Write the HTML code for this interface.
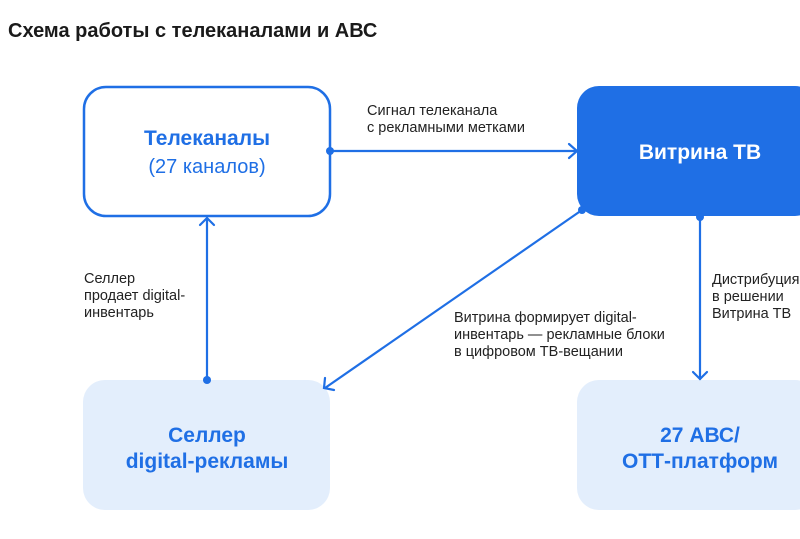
<!DOCTYPE html>
<html><head><meta charset="utf-8"><style>
body{margin:0;width:800px;height:534px;background:#fff;overflow:hidden;font-family:"Liberation Sans","Noto Sans CJK SC",sans-serif;}
</style></head><body>
<svg width="800" height="534" xmlns="http://www.w3.org/2000/svg" font-family="Liberation Sans, Noto Sans CJK SC, sans-serif">
<text x="8" y="37" font-size="20" font-weight="bold" fill="#1a1a1a">Схема работы с телеканалами и АВС</text>
<rect x="84" y="87" width="246" height="129" rx="22" fill="#fff" stroke="#1f6fe5" stroke-width="2.5"/>
<rect x="577" y="86" width="240" height="130" rx="22" fill="#1f6fe5"/>
<rect x="83" y="380" width="247" height="130" rx="22" fill="#e3eefc"/>
<rect x="577" y="380" width="240" height="130" rx="22" fill="#e3eefc"/>
<text x="207" y="145" text-anchor="middle" font-size="21" font-weight="bold" fill="#1f6fe5">Телеканалы</text>
<text x="207" y="173" text-anchor="middle" font-size="20" fill="#1f6fe5">(27 каналов)</text>
<text x="700" y="159" text-anchor="middle" font-size="21" font-weight="bold" fill="#fff">Витрина ТВ</text>
<text x="207" y="442" text-anchor="middle" font-size="21" font-weight="bold" fill="#1f6fe5">Селлер</text>
<text x="207" y="468" text-anchor="middle" font-size="21" font-weight="bold" fill="#1f6fe5">digital-рекламы</text>
<text x="700" y="442" text-anchor="middle" font-size="21" font-weight="bold" fill="#1f6fe5">27 АВС/</text>
<text x="700" y="468" text-anchor="middle" font-size="21" font-weight="bold" fill="#1f6fe5">ОТТ-платформ</text>
<g font-size="14.5" fill="#222">
<text x="367" y="115">Сигнал телеканала</text>
<text x="367" y="132">с рекламными метками</text>
<text x="84" y="283">Селлер</text>
<text x="84" y="300">продает digital-</text>
<text x="84" y="317">инвентарь</text>
<text x="454" y="322">Витрина формирует digital-</text>
<text x="454" y="339">инвентарь — рекламные блоки</text>
<text x="454" y="356">в цифровом ТВ-вещании</text>
<text x="712" y="284">Дистрибуция</text>
<text x="712" y="301">в решении</text>
<text x="712" y="318">Витрина ТВ</text>
</g>
<g stroke="#1f6fe5" stroke-width="2.2" fill="none" stroke-linecap="round">
<line x1="330" y1="151" x2="576" y2="151"/><polyline points="569,144 577,151 569,158"/>
<line x1="207" y1="218" x2="207" y2="380"/><polyline points="200,225 207,218 214,225"/>
<line x1="582" y1="210" x2="325" y2="388"/><polyline points="325,378 324,388 334,390"/>
<line x1="700" y1="217" x2="700" y2="379"/><polyline points="693,372 700,379 707,372"/>
</g>
<g fill="#1f6fe5"><circle cx="330" cy="151" r="4"/><circle cx="207" cy="380" r="4"/><circle cx="582" cy="210" r="4"/><circle cx="700" cy="217" r="4"/></g>
</svg>
</body></html>
